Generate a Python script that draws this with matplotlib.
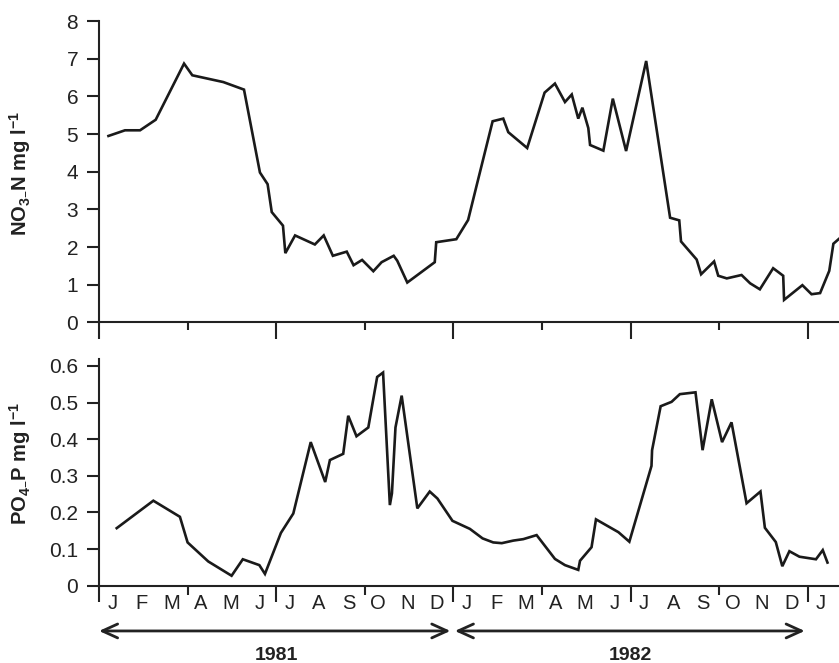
import matplotlib
matplotlib.use('Agg')
import matplotlib.pyplot as plt

plt.rcParams['font.family'] = ['Liberation Sans', 'DejaVu Sans']
plt.rcParams['mathtext.default'] = 'regular'

# months since 1 Jan 1981
no3_month = [0.32, 0.88, 1.39, 1.92, 2.88, 3.16, 4.21, 4.91, 5.45, 5.71, 5.85, 6.23, 6.31, 6.64,
             7.31, 7.61, 7.92, 8.39, 8.62, 8.91, 9.29, 9.57, 9.98, 10.10, 10.44, 11.37, 11.42,
             12.10, 12.50, 12.79, 13.33, 13.69, 13.86, 14.50, 15.09, 15.44, 15.78, 16.01, 16.23,
             16.37, 16.57, 16.63, 17.08, 17.40, 17.85, 18.53, 19.34, 19.65, 19.71, 20.24, 20.39,
             20.83, 20.97, 21.26, 21.76, 22.05, 22.38, 22.83, 23.17, 23.20, 23.82, 24.13, 24.42,
             24.73, 24.87, 25.06]
no3_value = [4.95, 5.10, 5.10, 5.38, 6.87, 6.56, 6.38, 6.18, 3.98, 3.67, 2.93, 2.57, 1.84, 2.31,
             2.07, 2.31, 1.77, 1.88, 1.52, 1.66, 1.36, 1.60, 1.77, 1.64, 1.06, 1.60, 2.13,
             2.21, 2.72, 3.64, 5.34, 5.41, 5.05, 4.63, 6.10, 6.34, 5.85, 6.05, 5.41,
             5.70, 5.16, 4.71, 4.56, 5.94, 4.55, 6.94, 2.78, 2.71, 2.15, 1.67, 1.28,
             1.62, 1.24, 1.17, 1.26, 1.04, 0.88, 1.44, 1.24, 0.60, 0.99, 0.75, 0.78,
             1.37, 2.09, 2.22]

po4_month = [0.60, 1.84, 2.74, 3.00, 3.70, 4.49, 4.87, 5.43, 5.62, 6.16, 6.58, 7.17, 7.66, 7.82,
             8.27, 8.44, 8.72, 9.12, 9.42, 9.62, 9.85, 9.92, 10.04, 10.25, 10.78, 11.20, 11.46,
             11.97, 12.56, 12.99, 13.35, 13.64, 14.03, 14.37, 14.82, 15.44, 15.78, 16.23, 16.29,
             16.68, 16.83, 17.59, 17.96, 18.71, 18.73, 19.02, 19.39, 19.67, 20.20, 20.44, 20.75,
             21.10, 21.42, 21.93, 22.40, 22.55, 22.92, 23.14, 23.38, 23.72, 24.28, 24.51, 24.67]
po4_value = [0.157, 0.232, 0.188, 0.118, 0.066, 0.027, 0.072, 0.056, 0.032, 0.144, 0.197, 0.392,
             0.283, 0.343, 0.360, 0.464, 0.408, 0.432, 0.570, 0.582, 0.220, 0.252, 0.432, 0.519,
             0.211, 0.257, 0.238, 0.177, 0.155, 0.129, 0.118, 0.116, 0.123, 0.127, 0.138, 0.073,
             0.056, 0.043, 0.068, 0.105, 0.181, 0.146, 0.120, 0.327, 0.370, 0.490, 0.502, 0.523,
             0.528, 0.370, 0.509, 0.392, 0.446, 0.225, 0.257, 0.158, 0.119, 0.053, 0.094, 0.079,
             0.072, 0.097, 0.063]

month_labels = list('JFMAMJJASOND') * 2 + ['J']
years = ['1981', '1982']

ink = '#222222'
fig = plt.figure(figsize=(8.39, 6.63), dpi=100)
ax1 = fig.add_axes([0.118, 0.5136, 0.882, 0.4547])
ax2 = fig.add_axes([0.118, 0.1167, 0.882, 0.3418])

for ax in (ax1, ax2):
    for s in ('top', 'right'):
        ax.spines[s].set_visible(False)
    for s in ('left', 'bottom'):
        ax.spines[s].set_linewidth(1.5)
        ax.spines[s].set_color(ink)
    ax.set_xlim(0, 25.06)
    ax.set_xticks([0, 6, 12, 18, 24])
    ax.set_xticks([3, 9, 15, 21], minor=True)
    ax.tick_params(axis='x', which='both', labelbottom=False, width=1.5, color=ink, direction='out')
    ax.tick_params(axis='y', which='major', length=9, width=1.5, color=ink, pad=6,
                   labelsize=15, labelcolor=ink)

ax1.tick_params(axis='x', which='major', length=12.5)
ax1.tick_params(axis='x', which='minor', length=5.5)
ax2.tick_params(axis='x', which='major', length=11.5)
ax2.tick_params(axis='x', which='minor', length=6.5)

ax1.plot(no3_month, no3_value, color='#1a1a1a', lw=1.9, solid_joinstyle='miter')
ax1.set_ylim(0, 8)
ax1.set_yticks(range(0, 9))
ax1.set_ylabel('NO$_{3\u2013}$N mg l$^{\u22121}$', fontsize=14.5, fontweight='bold', color=ink)
ax1.yaxis.set_label_coords(-0.089, 0.494)

ax2.plot(po4_month, po4_value, color='#1a1a1a', lw=1.9, solid_joinstyle='miter')
ax2.set_ylim(0, 0.619)
ax2.set_yticks([0, 0.1, 0.2, 0.3, 0.4, 0.5, 0.6])
ax2.set_yticklabels(['0', '0.1', '0.2', '0.3', '0.4', '0.5', '0.6'])
ax2.set_ylabel('PO$_{4\u2013}$P mg l$^{\u22121}$', fontsize=14.5, fontweight='bold', color=ink)
ax2.yaxis.set_label_coords(-0.089, 0.539)

trans = ax2.get_xaxis_transform()
for i, lab in enumerate(month_labels):
    ax2.text(i + 0.45, -0.078, lab, transform=trans, ha='center', va='center',
             fontsize=14.5, color=ink, clip_on=False)

arrow_spans = [(0.0, 11.9), (12.05, 23.9)]
year_centres = [6.0, 18.0]
for (a, b), yr, c in zip(arrow_spans, years, year_centres):
    ax2.annotate('', xy=(b, -0.2), xytext=(a, -0.2), xycoords=trans, textcoords=trans,
                 annotation_clip=False,
                 arrowprops=dict(arrowstyle='<->,head_length=0.55,head_width=0.25',
                                 lw=2, color=ink, shrinkA=0, shrinkB=0, mutation_scale=20))
    ax2.text(c, -0.31, yr, transform=trans, ha='center', va='center', fontsize=14,
             fontweight='bold', color=ink)

fig.savefig('out.png', dpi=100)
